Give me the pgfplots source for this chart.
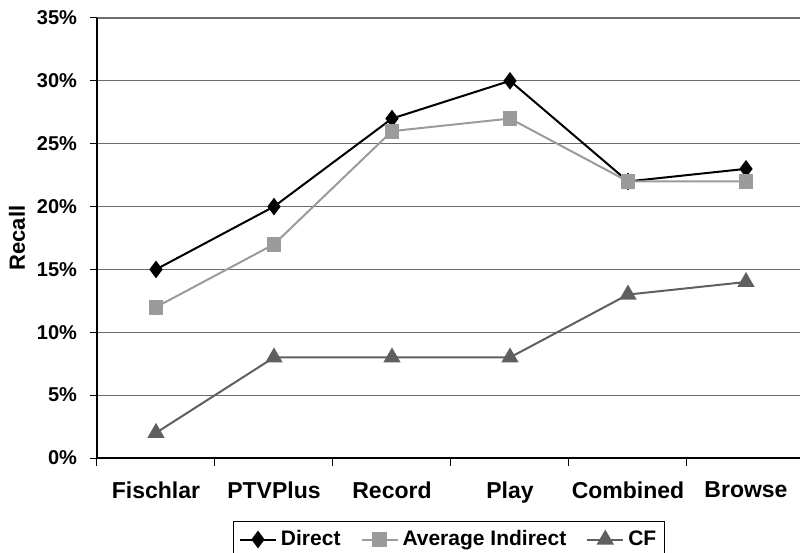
\documentclass[border=0pt]{standalone}
\usepackage{pgfplots}
\pgfplotsset{compat=1.18}
\usepackage{fontspec}
\setmainfont{Liberation Sans}
\definecolor{avgind}{RGB}{155,155,155}
\definecolor{cfcol}{RGB}{95,95,95}
\begin{document}
\begin{tikzpicture}
\useasboundingbox (0,0) rectangle (400pt,276.5pt);
\begin{axis}[
  at={(48.5pt,47.5pt)}, anchor=south west,
  x=59pt, y=6.286pt,
  xmin=-0.5, xmax=5.46, ymin=0, ymax=35,
  axis x line*=bottom, axis y line*=left,
  axis line style={black, line width=0.7pt},
  xtick={0,1,2,3,4,5},
  xticklabels={Fischlar,PTVPlus,Record,Play,Combined,Browse},
  major x tick style={draw=none},
  minor xtick={-0.5,0.5,1.5,2.5,3.5,4.5,5.5},
  minor tick length=4pt,
  minor x tick style={black, line width=0.5pt},
  ytick={0,5,...,35},
  yticklabel={\pgfmathprintnumber{\tick}\%},
  major tick length=3.5pt,
  tick align=outside,
  y tick style={black, line width=0.5pt},
  ymajorgrids,
  grid style={gray!85!black, line width=0.6pt},
  /pgf/number format/assume math mode=true,
  yticklabel style={font=\bfseries\fontsize{10}{12}\selectfont, xshift=-3pt},
  xticklabel style={font=\bfseries\fontsize{11.5}{13}\selectfont, yshift=-5pt},
  ylabel={Recall},
  ylabel style={font=\bfseries\fontsize{11}{13}\selectfont, yshift=-1pt},
  legend style={at={(0.5,0)}, anchor=north, yshift=-31.5pt, draw=black,
    font=\bfseries\fontsize{10.5}{13}\selectfont, legend columns=3,
    nodes={inner xsep=1pt, inner ysep=2.5pt},
    /tikz/column 1/.style={column sep=1pt},
    /tikz/column 2/.style={column sep=9pt},
    /tikz/column 3/.style={column sep=1pt},
    /tikz/column 4/.style={column sep=9pt},
    /tikz/column 5/.style={column sep=1pt},
    inner xsep=3pt, inner ysep=2pt},
  legend image code/.code={
    \draw[#1, mark repeat=2, mark phase=2] plot coordinates {(0pt,0pt) (9pt,0pt) (18pt,0pt)};},
  clip=false,
]
\addplot[black, line width=1pt, mark=diamond*, mark size=3.6pt, mark options={solid, fill=black}]
  coordinates {(0,15) (1,20) (2,27) (3,30) (4,22) (5,23)};
\addlegendentry{Direct}
\addplot[avgind, line width=1pt, mark=square*, mark size=3.2pt, mark options={solid, fill=avgind}]
  coordinates {(0,12) (1,17) (2,26) (3,27) (4,22) (5,22)};
\addlegendentry{Average Indirect}
\addplot[cfcol, line width=1pt, mark=triangle*, mark size=4pt, mark options={solid, fill=cfcol}]
  coordinates {(0,2) (1,8) (2,8) (3,8) (4,13) (5,14)};
\addlegendentry{CF}
\end{axis}
\end{tikzpicture}
\end{document}
